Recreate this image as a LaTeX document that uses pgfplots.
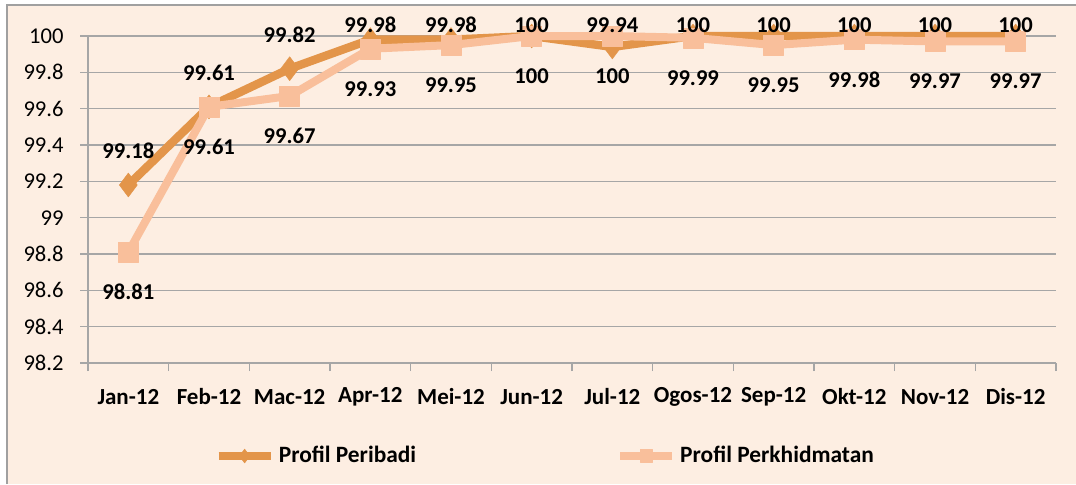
\documentclass[border=0pt]{standalone}
\usepackage{pgfplots}
\pgfplotsset{compat=1.18}
\usepackage{pgfplotstable}
\usepackage{fontspec}
\setmainfont{Carlito}
\definecolor{bgpeach}{HTML}{FDEEE2}
\definecolor{gridgray}{HTML}{A6A6A6}
\definecolor{peribadi}{HTML}{E3954A}
\definecolor{perkhid}{HTML}{F9BF9B}
\definecolor{framegray}{HTML}{A0A0A0}

\pgfplotstableread{
x y
0 99.18
1 99.61
2 99.82
3 99.98
4 99.98
5 100
6 99.94
7 100
8 100
9 100
10 100
11 100
}\peribaditab
\pgfplotstableread{
x y
0 98.81
1 99.61
2 99.67
3 99.93
4 99.95
5 100
6 100
7 99.99
8 99.95
9 99.98
10 99.97
11 99.97
}\perkhidtab

\begin{document}
\begin{tikzpicture}[font=\fontsize{11.3}{13}\selectfont]
\useasboundingbox (0,0) rectangle (538pt,-242pt);
\fill[white] (0,0) rectangle (538pt,-242pt);
\fill[bgpeach] (3.5pt,-2.5pt) rectangle (538pt,-242pt);
\draw[framegray, line width=0.75pt] (3.5pt,-242pt) -- (3.5pt,-2.5pt) -- (538pt,-2.5pt);
\begin{axis}[
  at={(44pt,-181.5pt)}, anchor=south west,
  scale only axis, width=484pt, height=163.5pt,
  xmin=-0.5, xmax=11.5, ymin=98.2, ymax=100,
  clip=false,
  axis x line*=bottom, axis y line*=left,
  axis line style={gridgray, line width=0.75pt},
  xtick={0,...,11},
  xticklabels={Jan-12,Feb-12,Mac-12,Apr-12,Mei-12,Jun-12,Jul-12,Ogos-12,Sep-12,Okt-12,Nov-12,Dis-12},
  minor xtick={-0.5,0.5,1.5,2.5,3.5,4.5,5.5,6.5,7.5,8.5,9.5,10.5,11.5},
  ytick={98.2,98.4,98.6,98.8,99,99.2,99.4,99.6,99.8,100},
  yticklabels={98.2,98.4,98.6,98.8,99,99.2,99.4,99.6,99.8,100},
  ymajorgrids,
  grid style={gridgray, line width=0.75pt},
  tick align=outside,
  major tick length=4pt, minor tick length=4pt,
  tick style={gridgray, line width=0.75pt},
  every major x tick/.append style={draw=none},
  xticklabel style={font=\fontsize{11.5}{13}\selectfont\bfseries, inner sep=0pt, anchor=center, yshift=-13pt},
  yticklabel style={inner sep=0pt, anchor=east, xshift=-8pt},
  /pgf/number format/assume math mode=true,
  legend style={at={(0.124,-0.2844)}, anchor=west, draw=none, fill=none,
    legend columns=2, font=\fontsize{11.7}{13}\selectfont\bfseries,
    /tikz/every even column/.append style={column sep=98pt}},
  legend image code/.code={\draw[#1, mark repeat=2, mark phase=2] plot coordinates {(0pt,0pt)(13pt,0pt)(26pt,0pt)};},
]
\addplot[peribadi, line width=4.2pt, line join=round, mark=diamond*,
  mark size=6pt, mark options={solid, line width=0.2pt},
  legend image post style={mark size=3.5pt}] table[x=x,y=y]{\peribaditab};
\addlegendentry{Profil Peribadi}
\addplot[perkhid, line width=4pt, line join=round, mark=square*,
  mark size=5pt, mark options={solid, line width=0.2pt},
  legend image post style={mark size=3.2pt}] table[x=x,y=y]{\perkhidtab};
\addlegendentry{Profil Perkhidmatan}
\addplot[draw=none, forget plot, nodes near coords, point meta={\thisrow{y}},
  every node near coord/.style={anchor=center, inner sep=0pt, black,
    font=\fontsize{11.3}{13}\selectfont\bfseries}]
  table[x=x, y expr={min(\thisrow{y}+0.187,100.0606)}]{\peribaditab};
\addplot[draw=none, forget plot, nodes near coords, point meta={\thisrow{y}},
  every node near coord/.style={anchor=center, inner sep=0pt, black,
    font=\fontsize{11.3}{13}\selectfont\bfseries, yshift=-20pt}] table[x=x,y=y]{\perkhidtab};
\end{axis}
\end{tikzpicture}
\end{document}
